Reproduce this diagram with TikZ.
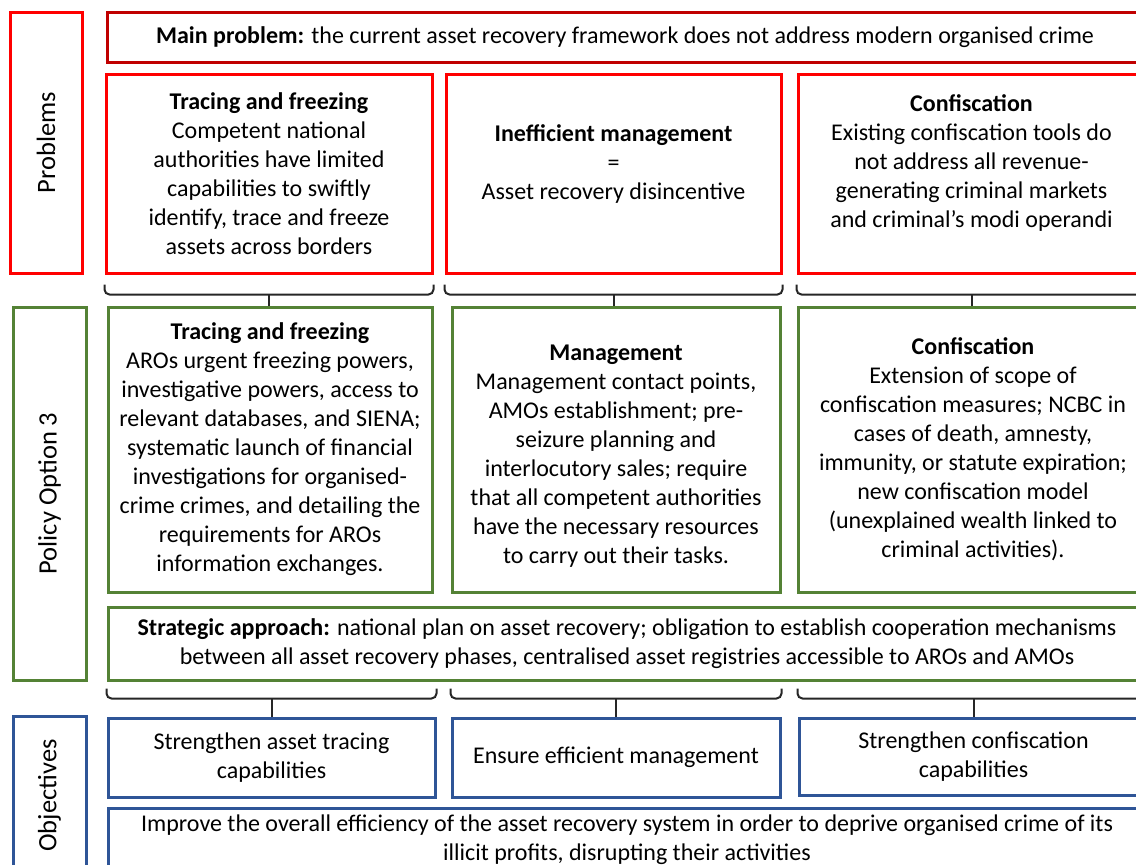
\documentclass[tikz,border=0pt]{standalone}
\usepackage{fontspec}
\setmainfont{Carlito}
\usetikzlibrary{positioning}
\definecolor{probred}{HTML}{FF0000}
\definecolor{mainred}{HTML}{C00000}
\definecolor{optgreen}{HTML}{548235}
\definecolor{objblue}{HTML}{2F5597}
\tikzset{
  box/.style={draw, line width=3pt, align=center, inner sep=0pt, font=\fontsize{24}{29}\selectfont},
  prob/.style={box, draw=probred},
  opt/.style={box, draw=optgreen},
  obj/.style={box, draw=objblue},
  side/.style={rotate=90, font=\fontsize{26.5}{32}\selectfont},
  brace/.style={line width=2pt, rounded corners=5pt, draw=black!85}
}

\begin{document}
\begin{tikzpicture}[x=1pt, y=-1pt]
    \useasboundingbox (0,0) rectangle (1136,865);
    \clip (0,0) rectangle (1136,865);
    % Side labels
    \node[prob, side, minimum width=261pt, minimum height=72pt] (sideP) at (46,142.5) {Problems};
    \node[opt, side, minimum width=373pt, minimum height=73pt] (sideO) at (49.5,493.5) {Policy Option 3};
    \node[obj, side, minimum width=159pt, minimum height=73pt] (sideJ) at (49.5,795.5) {Objectives};
    % Problems
    \node[box, draw=mainred, minimum width=1036pt, minimum height=50pt] (main) at (625,37)
      {\textbf{Main problem:} the current asset recovery framework does not address modern organised crime};
    \node[prob, minimum width=326pt, minimum height=199pt] (p1) at (269,173.5)
      {\textbf{Tracing and freezing}\\Competent national\\authorities have limited\\capabilities to swiftly\\identify, trace and freeze\\assets across borders};
    \node[prob, minimum width=335pt, minimum height=199pt] (p2) at (613.5,173.5)
      {\textbf{Inefficient management}\\=\\Asset recovery disincentive\\[-6pt]\mbox{}};
    \node[prob, minimum width=347pt, minimum height=199pt] (p3) at (971.5,173.5)
      {\textbf{Confiscation}\\Existing confiscation tools do\\not address all revenue-\\generating criminal markets\\and criminal’s modi operandi\\[-5pt]\mbox{}};
    % Policy option
    \node[opt, minimum width=324pt, minimum height=285pt] (o1) at (270,449.5)
      {\textbf{Tracing and freezing}\\AROs urgent freezing powers,\\investigative powers, access to\\relevant databases, and SIENA;\\systematic launch of financial\\investigations for organised-\\crime crimes, and detailing the\\requirements for AROs\\information exchanges.};
    \node[opt, minimum width=328pt, minimum height=285pt] (o2) at (616,449.5)
      {\mbox{}\\\textbf{Management}\\Management contact points,\\AMOs establishment; pre-\\seizure planning and\\interlocutory sales; require\\that all competent authorities\\have the necessary resources\\to carry out their tasks.};
    \node[opt, minimum width=350pt, minimum height=285pt] (o3) at (973,449.5)
      {\textbf{Confiscation}\\Extension of scope of\\confiscation measures; NCBC in\\cases of death, amnesty,\\immunity, or statute expiration;\\new confiscation model\\(unexplained wealth linked to\\criminal activities).};
    \node[opt, minimum width=1038pt, minimum height=73pt] (strat) at (627,643.5)
      {\textbf{Strategic approach:} national plan on asset recovery; obligation to establish cooperation mechanisms\\between all asset recovery phases, centralised asset registries accessible to AROs and AMOs};
    % Objectives
    \node[obj, minimum width=327pt, minimum height=79pt] (j1) at (271.5,757.5)
      {Strengthen asset tracing\\capabilities};
    \node[obj, minimum width=328pt, minimum height=79pt] (j2) at (616,757.5)
      {Ensure efficient management};
    \node[obj, minimum width=349pt, minimum height=77pt] (j3) at (973.5,756.5)
      {Strengthen confiscation\\capabilities};
    \node[obj, minimum width=1038pt, minimum height=64pt] (goal) at (627,840)
      {Improve the overall efficiency of the asset recovery system in order to deprive organised crime of its\\illicit profits, disrupting their activities};
    % Braces problems -> policy option
    \coordinate (at) at ([yshift=-10pt]p1.south);
    \coordinate (ab) at ([yshift=-20pt]p1.south);
    \foreach \i in {1,2,3}{
      \draw[brace] (p\i.west |- at) |- (p\i |- ab) -| (p\i.east |- at);
      \draw[brace] (p\i |- ab) -- (p\i |- o\i.north);
    }
    % Braces strategic approach -> objectives
    \coordinate (bt) at ([yshift=-7pt]strat.south);
    \coordinate (bb) at ([yshift=-17pt]strat.south);
    \foreach \i in {1,2,3}{
      \draw[brace] (j\i.west |- bt) |- (j\i |- bb) -| (j\i.east |- bt);
      \draw[brace] (j\i |- bb) -- (j\i.north);
    }
\end{tikzpicture}
\end{document}
